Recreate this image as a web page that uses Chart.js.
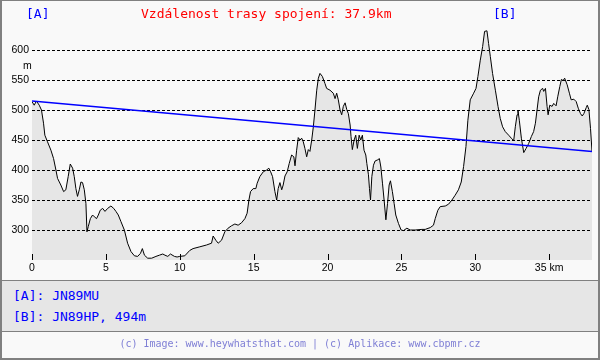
<!DOCTYPE html>
<html>
<head>
<meta charset="utf-8">
<script src="https://cdn.jsdelivr.net/npm/chart.js@4.4.1/dist/chart.umd.min.js"></script>
<style>
  html, body { margin: 0; padding: 0; background: #f9f9f9; }
  #wrap { position: relative; width: 600px; height: 360px; overflow: hidden; background: #f9f9f9; }
  #c { position: absolute; left: 0; top: 0; }
  .t { position: absolute; white-space: pre; font-family: "DejaVu Sans Mono", monospace; }
  .hdr { font-size: 13px; line-height: 14px; top: 7px; }
  .blue { color: #0000ff; }
  .red { color: #ff0000; }
  .panel { position: absolute; left: 0; top: 280px; width: 600px; height: 52px; box-sizing: border-box; background: #e6e6e6; border-top: 1px solid #808080; border-bottom: 1px solid #808080; }
  .pt { font-size: 13px; line-height: 14px; left: 13px; }
  .foot { font-size: 10px; line-height: 12px; left: 0; width: 600px; text-align: center; top: 338px; color: #7f7fd5; }
  .unit { position: absolute; font-family: "Liberation Sans", Arial, sans-serif; font-size: 10.5px; line-height: 12px; left: 23px; top: 59px; color: #000; }
  .bl { position: absolute; background: #808080; }
</style>
</head>
<body>
<div id="wrap">
  <canvas id="c" width="600" height="360"></canvas>
  <div class="t hdr blue" style="left:26px">[A]</div>
  <div class="t hdr red" style="left:141px">Vzdálenost trasy spojení: 37.9km</div>
  <div class="t hdr blue" style="left:493px">[B]</div>
  <div class="unit">m</div>
  <div class="panel">
    <div class="t pt blue" style="top:8px">[A]: JN89MU</div>
    <div class="t pt blue" style="top:29px">[B]: JN89HP, 494m</div>
  </div>
  <div class="t foot">(c) Image: www.heywhatsthat.com | (c) Aplikace: www.cbpmr.cz</div>
  <div class="bl" style="left:0;top:0;width:600px;height:1px"></div>
  <div class="bl" style="left:0;top:0;width:2px;height:360px"></div>
  <div class="bl" style="left:598px;top:0;width:2px;height:360px"></div>
  <div class="bl" style="left:0;top:358px;width:600px;height:2px"></div>
</div>
<script>
// Distance along the path (km)
const distKm = [
  0, 0.15, 0.3, 0.49, 0.64, 0.78, 0.87, 1.05, 1.28, 1.46, 1.62, 1.73, 1.95, 2.14, 2.29, 2.45, 2.59, 2.75, 2.86, 2.97,
  3.08, 3.2, 3.31, 3.42, 3.54, 3.65, 3.72, 3.81, 3.95, 4.1, 4.22, 4.37, 4.49, 4.62, 4.78, 4.94, 5.12, 5.34, 5.53, 5.68,
  5.84, 6.02, 6.25, 6.47, 6.7, 6.93, 7.15, 7.34, 7.47, 7.61, 7.83, 8.1, 8.39, 8.62, 8.85, 9.0, 9.19, 9.37, 9.64, 9.82,
  10.0, 10.34, 10.68, 10.9, 11.36, 11.81, 12.15, 12.26, 12.44, 12.6, 12.83, 13.05, 13.27, 13.5, 13.73, 13.95, 14.18, 14.41, 14.56, 14.68,
  14.79, 14.97, 15.15, 15.24, 15.42, 15.65, 15.88, 16.03, 16.15, 16.28, 16.44, 16.56, 16.66, 16.78, 16.9, 17.0, 17.12, 17.27, 17.41, 17.57,
  17.72, 17.8, 17.91, 18.02, 18.14, 18.25, 18.36, 18.47, 18.59, 18.7, 18.81, 18.93, 19.04, 19.15, 19.27, 19.38, 19.49, 19.65, 19.83, 19.94,
  20.17, 20.39, 20.51, 20.62, 20.73, 20.85, 20.96, 21.07, 21.19, 21.3, 21.41, 21.53, 21.59, 21.68, 21.8, 21.91, 22.02, 22.14, 22.25, 22.36,
  22.47, 22.59, 22.66, 22.77, 22.84, 22.91, 23.0, 23.11, 23.22, 23.4, 23.51, 23.61, 23.72, 23.83, 23.95, 24.06, 24.17, 24.26, 24.39, 24.51,
  24.62, 24.8, 24.98, 25.14, 25.37, 25.59, 25.93, 26.39, 26.61, 26.95, 27.17, 27.29, 27.47, 27.63, 27.97, 28.19, 28.42, 28.64, 28.86, 29.05,
  29.21, 29.37, 29.5, 29.66, 29.89, 30.05, 30.18, 30.34, 30.5, 30.63, 30.79, 30.9, 31.02, 31.17, 31.36, 31.54, 31.69, 31.85, 32.03, 32.26,
  32.44, 32.6, 32.71, 32.83, 32.89, 32.98, 33.12, 33.28, 33.44, 33.61, 33.8, 33.95, 34.07, 34.18, 34.29, 34.41, 34.56, 34.63, 34.75, 34.86,
  34.93, 35.04, 35.2, 35.31, 35.47, 35.58, 35.72, 35.83, 35.94, 36.05, 36.22, 36.37, 36.49, 36.67, 36.83, 36.97, 37.12, 37.24, 37.35, 37.51,
  37.58, 37.69, 37.8, 37.9
];
// Terrain elevation (m)
const elevM = [
  514, 508, 515, 508, 500, 478, 458, 447, 433, 419, 400, 386, 375, 364, 367, 389, 410, 403, 389, 369,
  356, 367, 380, 379, 367, 344, 297, 306, 319, 325, 322, 319, 325, 333, 336, 331, 336, 340, 336, 331,
  325, 314, 300, 278, 264, 257, 256, 261, 269, 258, 253, 253, 256, 258, 260, 258, 256, 260, 256, 255,
  256, 257, 266, 269, 272, 275, 278, 290, 283, 278, 283, 297, 303, 307, 310, 308, 312, 319, 328, 350,
  364, 369, 369, 378, 389, 397, 400, 403, 397, 389, 364, 350, 369, 379, 367, 375, 390, 397, 411, 425,
  422, 407, 433, 454, 450, 453, 447, 436, 422, 434, 431, 450, 472, 500, 533, 553, 561, 556, 544, 536,
  533, 528, 519, 528, 517, 500, 492, 506, 512, 501, 494, 475, 456, 434, 450, 458, 436, 458, 450, 458,
  433, 425, 411, 392, 369, 350, 389, 408, 415, 417, 419, 405, 378, 350, 317, 344, 375, 382, 364, 344,
  325, 311, 300, 299, 303, 300, 300, 301, 301, 304, 308, 319, 333, 339, 340, 343, 350, 358, 367, 380,
  406, 439, 483, 517, 528, 536, 556, 583, 606, 631, 632, 611, 589, 561, 533, 506, 486, 472, 464, 458,
  453, 449, 472, 492, 499, 483, 453, 429, 436, 444, 456, 464, 478, 500, 522, 533, 536, 531, 536, 506,
  492, 508, 506, 511, 507, 522, 539, 551, 549, 553, 542, 528, 517, 518, 514, 503, 494, 490, 494, 504,
  508, 501, 469, 431
];
// Line of sight between A and B: [distance km, height m]
const losKm = [0, 37.9];
const losM = [515, 431];
// Axis ticks
const xTickValues = [0, 5, 10, 15, 20, 25, 30, 35];
const xTickLabels = ['0', '5', '10', '15', '20', '25', '30', '35 km'];
const yTickValues = [300, 350, 400, 450, 500, 550, 600];

const profile = distKm.map((d, i) => ({ x: d, y: elevM[i] }));
const los = losKm.map((d, i) => ({ x: d, y: losM[i] }));

const tickMarks = {
  id: 'tickMarks',
  afterDatasetsDraw(chart) {
    const xs = chart.scales.x, ca = chart.chartArea, ctx = chart.ctx;
    ctx.save();
    ctx.strokeStyle = '#000';
    ctx.lineWidth = 1;
    ctx.beginPath();
    xTickValues.forEach(v => {
      const px = Math.round(xs.getPixelForValue(v)) + 0.5;
      ctx.moveTo(px, ca.bottom - 6);
      ctx.lineTo(px, ca.bottom);
    });
    ctx.stroke();
    ctx.restore();
  }
};

new Chart(document.getElementById('c'), {
  type: 'line',
  data: {
    datasets: [
      { data: los, borderColor: '#0000ff', borderWidth: 1.5, pointRadius: 0, fill: false, tension: 0, order: 0 },
      { data: profile, borderColor: '#000', borderWidth: 1, pointRadius: 0, fill: 'start',
        backgroundColor: 'rgba(0,0,0,0.076)', tension: 0, order: 1 }
    ]
  },
  options: {
    responsive: false,
    animation: false,
    events: [],
    layout: { padding: { top: 20, right: 8, bottom: 80, left: 0 } },
    plugins: { legend: { display: false }, tooltip: { enabled: false }, title: { display: false } },
    scales: {
      x: {
        type: 'linear', min: 0, max: 37.9,
        afterBuildTicks: s => { s.ticks = xTickValues.map(v => ({ value: v })); },
        afterFit: s => { s.height = 20; },
        grid: { display: false, drawTicks: false },
        border: { display: false },
        ticks: {
          autoSkip: false, maxRotation: 0, padding: 2, color: '#000',
          font: { family: 'Liberation Sans', size: 10.5 },
          callback: (v, i) => xTickLabels[i]
        }
      },
      y: {
        type: 'linear', min: 250, max: 650,
        afterBuildTicks: s => { s.ticks = yTickValues.map(v => ({ value: v })); },
        afterFit: s => { s.width = 32; },
        grid: { color: '#000', lineWidth: 1, drawTicks: false },
        border: { display: false, dash: [3, 2] },
        ticks: {
          padding: 3, color: '#000',
          font: { family: 'Liberation Sans', size: 10.5 }
        }
      }
    }
  },
  plugins: [tickMarks]
});
</script>
</body>
</html>
